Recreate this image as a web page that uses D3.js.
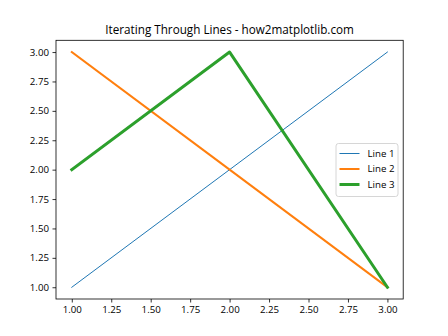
<!DOCTYPE html>
<html>
<head>
<meta charset="utf-8">
<script src="https://cdn.jsdelivr.net/npm/d3@7"></script>
<style>
  html, body { margin: 0; padding: 0; background: #fff; }
  svg { display: block; }
  text { font-family: "Open Sans", "Noto Sans", sans-serif; fill: #000; }
</style>
</head>
<body>
<div id="chart"></div>
<script>
// Three series sharing the same x positions
const xValues = [1, 2, 3];
const line1 = [1, 2, 3];
const line2 = [3, 2, 1];
const line3 = [2, 3, 1];
const seriesNames = ["Line 1", "Line 2", "Line 3"];
const seriesColors = ["#1f77b4", "#ff7f0e", "#2ca02c"];
const seriesWidths = [1, 2, 3];
const xTicks = [1.00, 1.25, 1.50, 1.75, 2.00, 2.25, 2.50, 2.75, 3.00];
const yTicks = [1.00, 1.25, 1.50, 1.75, 2.00, 2.25, 2.50, 2.75, 3.00];
const title = "Iterating Through Lines - how2matplotlib.com";

const W = 448, H = 336;
const m = { left: 56, right: 403.2, top: 40.3, bottom: 299 };

const svg = d3.select("#chart").append("svg")
  .attr("width", W).attr("height", H);

const x = d3.scaleLinear().domain([0.9, 3.1]).range([m.left, m.right]);
const y = d3.scaleLinear().domain([0.9, 3.1]).range([m.bottom, m.top]);

const series = [line1, line2, line3].map((vals, i) => ({
  name: seriesNames[i],
  color: seriesColors[i],
  width: seriesWidths[i],
  points: vals.map((v, j) => [xValues[j], v])
}));

const lineGen = d3.line().x(d => x(d[0])).y(d => y(d[1]));

svg.append("g").selectAll("path").data(series).join("path")
  .attr("d", d => lineGen(d.points))
  .attr("fill", "none")
  .attr("stroke", d => d.color)
  .attr("stroke-width", d => d.width)
  .attr("stroke-linecap", "square")
  .attr("stroke-linejoin", "round");

// Axes
const xAxis = svg.append("g")
  .attr("transform", `translate(0,${m.bottom})`)
  .call(d3.axisBottom(x).tickValues(xTicks).tickFormat(d3.format(".2f"))
    .tickSize(3.5).tickPadding(3.5));
const yAxis = svg.append("g")
  .attr("transform", `translate(${m.left},0)`)
  .call(d3.axisLeft(y).tickValues(yTicks).tickFormat(d3.format(".2f"))
    .tickSize(3.5).tickPadding(3.5));

[xAxis, yAxis].forEach(g => {
  g.select(".domain").remove();
  g.selectAll(".tick line").attr("stroke", "#000").attr("stroke-width", 0.8);
  g.selectAll(".tick text").attr("font-family", "Open Sans, Noto Sans, sans-serif")
    .attr("font-size", 9.7).attr("fill", "#000");
});

// Frame
svg.append("rect")
  .attr("x", m.left).attr("y", m.top)
  .attr("width", m.right - m.left).attr("height", m.bottom - m.top)
  .attr("fill", "none").attr("stroke", "#000").attr("stroke-width", 0.8);

// Title
svg.append("text")
  .attr("x", (m.left + m.right) / 2).attr("y", 34)
  .attr("text-anchor", "middle")
  .attr("font-size", 11.7)
  .text(title);

// Legend
const lg = svg.append("g");
lg.append("rect")
  .attr("x", 336).attr("y", 143.5).attr("width", 62).attr("height", 53)
  .attr("rx", 2.5)
  .attr("fill", "#fff").attr("fill-opacity", 0.8)
  .attr("stroke", "#cccccc").attr("stroke-width", 0.8);
const rows = lg.selectAll("g.row").data(series).join("g")
  .attr("class", "row")
  .attr("transform", (d, i) => `translate(0,${153.5 + i * 15.5})`);
rows.append("line")
  .attr("x1", 339.5).attr("x2", 359.5)
  .attr("stroke", d => d.color).attr("stroke-width", d => d.width);
rows.append("text")
  .attr("x", 367.5).attr("y", 0).attr("dy", "0.35em")
  .attr("font-size", 9.7)
  .text(d => d.name);
</script>
</body>
</html>
